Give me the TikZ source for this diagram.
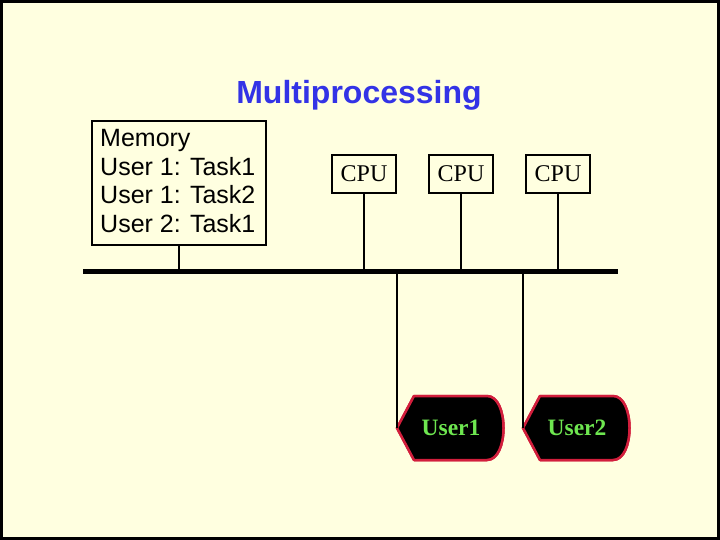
\documentclass[tikz,border=0pt]{standalone}
\usepackage{fontspec}
\setmainfont{Liberation Serif}
\newfontfamily\sans{Liberation Sans}
\definecolor{bg}{RGB}{255,255,224}
\definecolor{ttl}{RGB}{51,51,230}
\definecolor{ugreen}{RGB}{110,230,80}
\definecolor{ured}{RGB}{210,30,60}
\begin{document}
\begin{tikzpicture}[x=1pt,y=-1pt,
  box/.style={draw,line width=2pt,fill=bg},
  wire/.style={line width=2pt},
  usr/.style={fill=black,draw=ured,line width=2.5pt,line join=round}]
\fill[bg] (0,0) rectangle (720,540);
\draw[line width=3pt] (1.5,1.5) rectangle (718.5,538.5);
\node[text=ttl,font=\sans\bfseries\fontsize{32}{34}\selectfont] (title) at (359,95) {Multiprocessing};
% memory
\node[box,minimum width=174pt,minimum height=124pt,inner sep=0pt] (mem) at (179,183) {};
\node[anchor=north west,align=left,font=\sans\fontsize{25}{28.7}\selectfont,inner sep=0pt] (memt) at (100,129) {Memory\\User 1: Task1\\User 1: Task2\\User 2: Task1};
% bus
\coordinate (b1) at (83,271);
\coordinate (b2) at (618,271);
\draw[line width=5pt] (b1) -- (b2);
\draw[wire] (mem.south) -- (179,271);
% cpus
\foreach \n/\x in {1/364,2/461,3/558}{
  \node[box,minimum width=64pt,minimum height=38pt,inner sep=0pt,font=\fontsize{24}{26}\selectfont] (cpu\n) at (\x,174) {CPU};
  \draw[wire] (cpu\n.south) -- (\x,271);
}
% users
\foreach \n/\x in {1/397,2/523}{
  \fill[usr] (\x,428) -- (\x+17,396) -- (\x+90,396) .. controls (\x+112,396) and (\x+112,460) .. (\x+90,460) -- (\x+17,460) -- cycle;
  \draw[usr] (\x,428) -- (\x+17,396) -- (\x+90,396) .. controls (\x+112,396) and (\x+112,460) .. (\x+90,460) -- (\x+17,460) -- cycle;
  \coordinate (u\n) at (\x,428);
  \node[text=ugreen,font=\bfseries\fontsize{23.5}{26}\selectfont] (ut\n) at (\x+54,428) {User\n};
  \draw[wire] (\x,273) -- (u\n);
}
\end{tikzpicture}
\end{document}
